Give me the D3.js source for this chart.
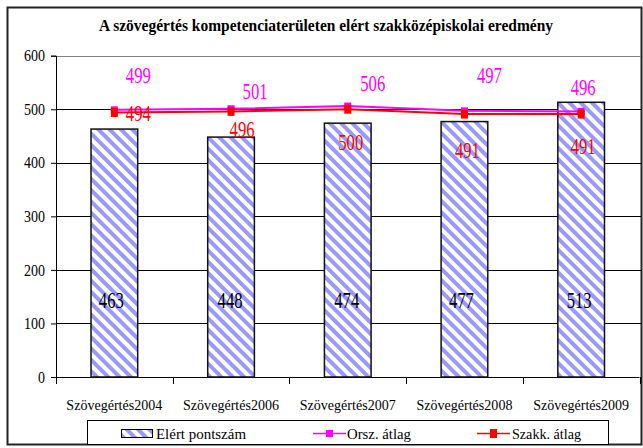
<!DOCTYPE html>
<html>
<head>
<meta charset="utf-8">
<script src="https://cdn.jsdelivr.net/npm/d3@7"></script>
<style>
  body { margin: 0; background: #fff; }
</style>
</head>
<body>
<div id="chart"></div>
<script>
var title = "A szövegértés kompetenciaterületen elért szakközépiskolai eredmény";
var categories = ["Szövegértés2004", "Szövegértés2006", "Szövegértés2007", "Szövegértés2008", "Szövegértés2009"];
var elert = [463, 448, 474, 477, 513];
var orszAtlag = [499, 501, 506, 497, 496];
var szakkAtlag = [494, 496, 500, 491, 491];
var yTicks = [0, 100, 200, 300, 400, 500, 600];
var seriesNames = ["Elért pontszám", "Orsz. átlag", "Szakk. átlag"];

// hand placed label offsets (px) as in the original sheet
var barLabelDx = [-3, -1, -1, -3, -2];
var orszLabelOff = [[24, -27], [24, -10], [25, -15], [25, -28], [2, -16]];
var szakkLabelOff = [[24, 9], [11, 26], [3, 41], [3, 44], [2, 40]];

var FONT = "Liberation Serif";
var width = 643, height = 448;
var plot = { left: 56, right: 639.5, top: 55.7, bottom: 377 };

var svg = d3.select("#chart").append("svg")
  .attr("width", width)
  .attr("height", height)
  .attr("font-family", FONT);

var defs = svg.append("defs");
var pat = defs.append("pattern")
  .attr("id", "hatch")
  .attr("patternUnits", "userSpaceOnUse")
  .attr("width", 8)
  .attr("height", 8)
  .attr("patternTransform", "rotate(-45)");
pat.append("rect").attr("width", 8).attr("height", 8).attr("fill", "#fff");
pat.append("rect").attr("width", 4).attr("height", 8).attr("fill", "#9999ff");

svg.append("rect")
  .attr("x", 7.5).attr("y", 7.5)
  .attr("width", 634).attr("height", 437)
  .attr("fill", "#fff")
  .attr("stroke", "#222")
  .attr("stroke-width", 2);

svg.append("text")
  .attr("x", 326).attr("y", 31)
  .attr("text-anchor", "middle")
  .attr("font-family", FONT)
  .attr("font-size", 17)
  .attr("font-weight", "bold")
  .attr("textLength", 454)
  .attr("lengthAdjust", "spacingAndGlyphs")
  .text(title);

var x = d3.scaleBand()
  .domain(categories)
  .range([plot.left, plot.right])
  .paddingInner(0.6)
  .paddingOuter(0.3);

var xBand = d3.scaleBand().domain(categories).range([plot.left, plot.right]);

var y = d3.scaleLinear().domain([0, 600]).range([plot.bottom, plot.top]);

var cx = function(c) { return xBand(c) + xBand.bandwidth() / 2; };

// gridlines
svg.append("g")
  .selectAll("line")
  .data(yTicks.filter(function(d) { return d > 0; }))
  .join("line")
  .attr("x1", plot.left).attr("x2", 641)
  .attr("y1", function(d) { return Math.round(y(d)) + 0.5; })
  .attr("y2", function(d) { return Math.round(y(d)) + 0.5; })
  .attr("stroke", function(d) { return d === 600 ? "#808080" : "#000"; })
  .attr("stroke-width", 1);

// y axis
var yAxis = svg.append("g")
  .attr("transform", "translate(" + plot.left + ",0)")
  .call(d3.axisLeft(y).tickValues(yTicks).tickSize(5).tickPadding(6));
yAxis.attr("font-family", FONT);
yAxis.select(".domain").attr("stroke", "#000");
yAxis.selectAll(".tick line").attr("stroke", "#000");
yAxis.selectAll(".tick text")
  .attr("font-family", FONT)
  .attr("font-size", 16)
  .attr("fill", "#000")
  .attr("textLength", function(d) { return d === 0 ? 7 : 21; })
  .attr("lengthAdjust", "spacingAndGlyphs");

// x axis
var xAxisG = svg.append("g").attr("transform", "translate(0," + plot.bottom + ")");
xAxisG.append("line")
  .attr("x1", plot.left).attr("x2", plot.right)
  .attr("y1", 0.5).attr("y2", 0.5)
  .attr("stroke", "#000");
xAxisG.selectAll(".xtick")
  .data(categories.concat(["end"]))
  .join("line")
  .attr("class", "xtick")
  .attr("x1", function(d, i) { return Math.round(plot.left + i * xBand.bandwidth()) + 0.5; })
  .attr("x2", function(d, i) { return Math.round(plot.left + i * xBand.bandwidth()) + 0.5; })
  .attr("y1", 0).attr("y2", 7)
  .attr("stroke", "#000");
xAxisG.selectAll(".xlabel")
  .data(categories)
  .join("text")
  .attr("class", "xlabel")
  .attr("x", cx)
  .attr("y", 33)
  .attr("text-anchor", "middle")
  .attr("font-family", FONT)
  .attr("font-size", 15)
  .attr("textLength", 96)
  .attr("lengthAdjust", "spacingAndGlyphs")
  .text(function(d) { return d; });

// bars
svg.append("g")
  .selectAll("rect")
  .data(elert)
  .join("rect")
  .attr("x", function(d, i) { return cx(categories[i]) - x.bandwidth() / 2; })
  .attr("y", function(d) { return y(d); })
  .attr("width", x.bandwidth())
  .attr("height", function(d) { return y(0) - y(d); })
  .attr("fill", "url(#hatch)")
  .attr("stroke", "#111")
  .attr("stroke-width", 1.5);

svg.append("g")
  .selectAll("text")
  .data(elert)
  .join("text")
  .attr("x", function(d, i) { return cx(categories[i]) + barLabelDx[i]; })
  .attr("y", 308)
  .attr("text-anchor", "middle")
  .attr("font-family", FONT)
  .attr("font-size", 23)
  .attr("textLength", 25)
  .attr("lengthAdjust", "spacingAndGlyphs")
  .attr("fill", "#000")
  .text(function(d) { return d; });

// lines
var line = d3.line()
  .x(function(d, i) { return cx(categories[i]); })
  .y(function(d) { return y(d); });

function drawSeries(values, color, mw, mh, offsets) {
  var g = svg.append("g");
  g.append("path")
    .datum(values)
    .attr("d", line)
    .attr("fill", "none")
    .attr("stroke", color)
    .attr("stroke-width", 2);
  g.selectAll("rect")
    .data(values)
    .join("rect")
    .attr("x", function(d, i) { return cx(categories[i]) - mw / 2; })
    .attr("y", function(d) { return y(d) - mh / 2; })
    .attr("width", mw)
    .attr("height", mh)
    .attr("fill", color);
  g.selectAll("text")
    .data(values)
    .join("text")
    .attr("x", function(d, i) { return cx(categories[i]) + offsets[i][0]; })
    .attr("y", function(d, i) { return y(d) + offsets[i][1]; })
    .attr("text-anchor", "middle")
    .attr("font-family", FONT)
    .attr("font-size", 23)
    .attr("textLength", 25)
    .attr("lengthAdjust", "spacingAndGlyphs")
    .attr("fill", color)
    .text(function(d) { return d; });
}

drawSeries(orszAtlag, "#ff00ff", 7, 7, orszLabelOff);
drawSeries(szakkAtlag, "#ff0000", 7, 9, szakkLabelOff);

// legend
var legend = svg.append("g");
legend.append("rect")
  .attr("x", 87.5).attr("y", 420.5)
  .attr("width", 521).attr("height", 24)
  .attr("fill", "#fff")
  .attr("stroke", "#000");

legend.append("rect")
  .attr("x", 121.5).attr("y", 429.5)
  .attr("width", 31).attr("height", 8)
  .attr("fill", "url(#hatch)")
  .attr("stroke", "#000");

var legendItems = [
  { name: seriesNames[0], tx: 156, len: 90 },
  { name: seriesNames[1], tx: 347, len: 64, color: "#ff00ff", lx: 313, mh: 7 },
  { name: seriesNames[2], tx: 512, len: 69, color: "#ff0000", lx: 477, mh: 9 }
];
legendItems.forEach(function(it) {
  if (it.color) {
    legend.append("line")
      .attr("x1", it.lx).attr("x2", it.lx + 33)
      .attr("y1", 433.5).attr("y2", 433.5)
      .attr("stroke", it.color)
      .attr("stroke-width", 1.5);
    legend.append("rect")
      .attr("x", it.lx + 16.5 - 3.5).attr("y", 433.5 - it.mh / 2)
      .attr("width", 7).attr("height", it.mh)
      .attr("fill", it.color);
  }
  legend.append("text")
    .attr("x", it.tx).attr("y", 439)
    .attr("font-family", FONT)
    .attr("font-size", 15)
    .attr("textLength", it.len)
    .attr("lengthAdjust", "spacingAndGlyphs")
    .text(it.name);
});
</script>
</body>
</html>
